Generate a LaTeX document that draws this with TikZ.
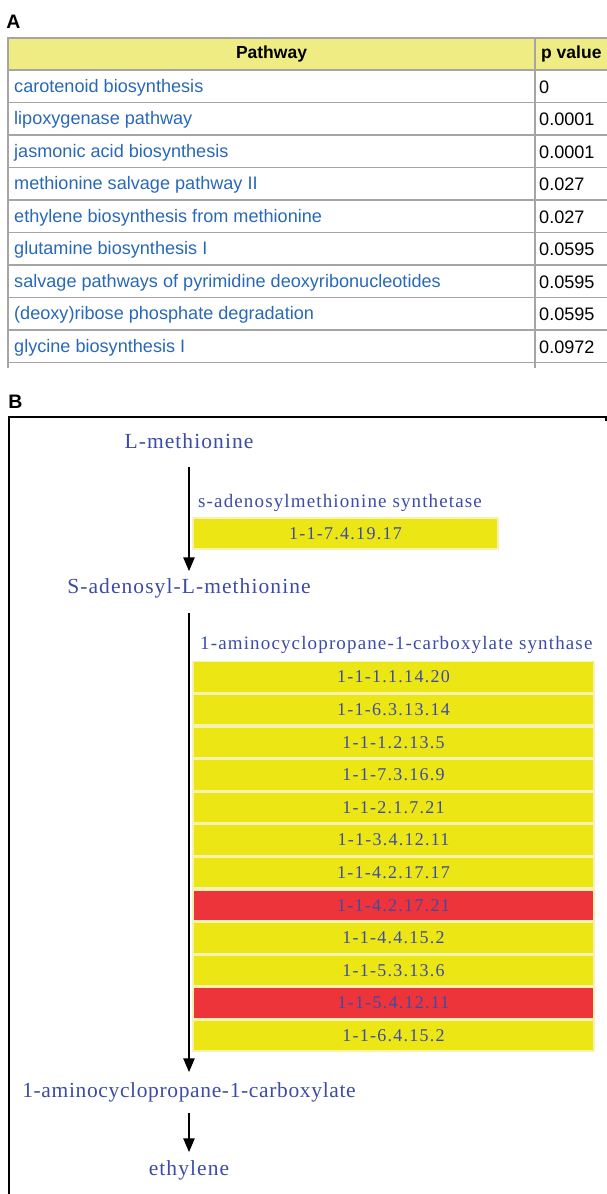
\documentclass[tikz,border=0pt]{standalone}
\usepackage{fontspec}
\setmainfont{Liberation Serif}
\newfontfamily\tabfont{Liberation Sans}
\newfontfamily\bigserif[LetterSpace=5]{Liberation Serif}
\newfontfamily\accserif[LetterSpace=3]{Liberation Serif}
\newfontfamily\smallserif[LetterSpace=6]{Liberation Serif}
\newfontfamily\ecserif[LetterSpace=7]{Liberation Serif}
\usetikzlibrary{arrows.meta}
\definecolor{linkblue}{RGB}{40,104,184}
\definecolor{gridgray}{RGB}{165,165,165}
\definecolor{headyellow}{RGB}{240,236,132}
\definecolor{pathblue}{RGB}{60,76,166}
\definecolor{boxyellow}{RGB}{236,230,20}
\definecolor{boxred}{RGB}{236,52,58}
\definecolor{seppale}{RGB}{246,242,175}
\tikzset{
  panel/.style={font=\tabfont\bfseries\fontsize{19.5}{22}\selectfont, inner sep=0pt},
  rowtext/.style={font=\tabfont\fontsize{18.1}{21}\selectfont, text=linkblue, anchor=west, inner sep=0pt},
  valtext/.style={font=\tabfont\fontsize{18.1}{21}\selectfont, text=black, anchor=west, inner sep=0pt},
  headtext/.style={font=\tabfont\bfseries\fontsize{17.5}{20}\selectfont, inner sep=0pt},
  grid/.style={draw=gridgray, line width=1.8pt},
  compound/.style={font=\bigserif\fontsize{21.5}{25}\selectfont, text=pathblue, inner sep=0pt, text height=15pt, text depth=4pt},
  enzyme/.style={font=\smallserif\fontsize{19}{22}\selectfont, text=pathblue, anchor=west, inner sep=0pt},
  ecbox/.style={font=\ecserif\fontsize{18}{21}\selectfont, text=pathblue, inner sep=0pt, minimum width=401pt, minimum height=31pt, draw=seppale, line width=1.6pt},
  arr/.style={draw=black, line width=2.6pt, -{Triangle[length=14pt,width=11pt]}},
}
\begin{document}
\begin{tikzpicture}[x=1pt,y=-1pt]
\useasboundingbox (0,0) rectangle (607,1194);
% ---------- Panel A ----------
\node[panel] (labA) at (13.5,21.5) {A};
\fill[headyellow] (8,38) rectangle (607,70);
\foreach \yy in {38,70,102.5,135,167.5,200,232.5,265,297.5,330,362.5}
  \draw[grid] (8,\yy) -- (607,\yy);
\draw[grid] (8,37.1) -- (8,368);
\draw[grid] (535,37.1) -- (535,368);
\node[headtext] (hpath) at (271.5,53.5) {Pathway};
\node[headtext, anchor=west] (hp) at (541,53.5) {p value};
\foreach \i/\name/\val in {0/carotenoid biosynthesis/0,
  1/lipoxygenase pathway/0.0001,
  2/jasmonic acid biosynthesis/0.0001,
  3/methionine salvage pathway II/0.027,
  4/ethylene biosynthesis from methionine/0.027,
  5/glutamine biosynthesis I/0.0595,
  6/salvage pathways of pyrimidine deoxyribonucleotides/0.0595,
  7/(deoxy)ribose phosphate degradation/0.0595,
  8/glycine biosynthesis I/0.0972}{
  \node[rowtext] (row\i) at (14,{87.5+32.5*\i}) {\name};
  \node[valtext] (val\i) at (539,{87+32.5*\i}) {\val};
}
% ---------- Panel B ----------
\node[panel] (labB) at (15.5,401.5) {B};
\draw[line width=2.6pt] (9,1194) -- (9,417) -- (606,417) -- (606,421);
\node[compound] (lmet) at (189,443) {L-methionine};
\node[enzyme] (enz1) at (198,503) {s-adenosylmethionine synthetase};
\node[ecbox, fill=boxyellow, minimum width=305pt] (ec0) at (345.5,533.5) {1-1-7.4.19.17};
\node[compound] (sam) at (189,588) {S-adenosyl-L-methionine};
\node[enzyme] (enz2) at (200,645) {1-aminocyclopropane-1-carboxylate synthase};
\foreach \i/\ec/\col in {0/1-1-1.1.14.20/boxyellow,
  1/1-1-6.3.13.14/boxyellow,
  2/1-1-1.2.13.5/boxyellow,
  3/1-1-7.3.16.9/boxyellow,
  4/1-1-2.1.7.21/boxyellow,
  5/1-1-3.4.12.11/boxyellow,
  6/1-1-4.2.17.17/boxyellow,
  7/1-1-4.2.17.21/boxred,
  8/1-1-4.4.15.2/boxyellow,
  9/1-1-5.3.13.6/boxyellow,
  10/1-1-5.4.12.11/boxred,
  11/1-1-6.4.15.2/boxyellow}{
  \node[ecbox, fill=\col] (ec\i) at (393.5,{677+32.6*\i}) {\ec};
}
\node[compound, font=\accserif\fontsize{21.5}{25}\selectfont] (acc) at (189,1092) {1-aminocyclopropane-1-carboxylate};
\node[compound] (eth) at (189,1170) {ethylene};
\draw[arr, shorten <=14pt, shorten >=7pt] (lmet) -- (sam);
\draw[arr, shorten <=15pt, shorten >=10pt] (sam) -- (acc);
\draw[arr, shorten <=11pt, shorten >=8pt] (acc) -- (eth);
\end{tikzpicture}
\end{document}
